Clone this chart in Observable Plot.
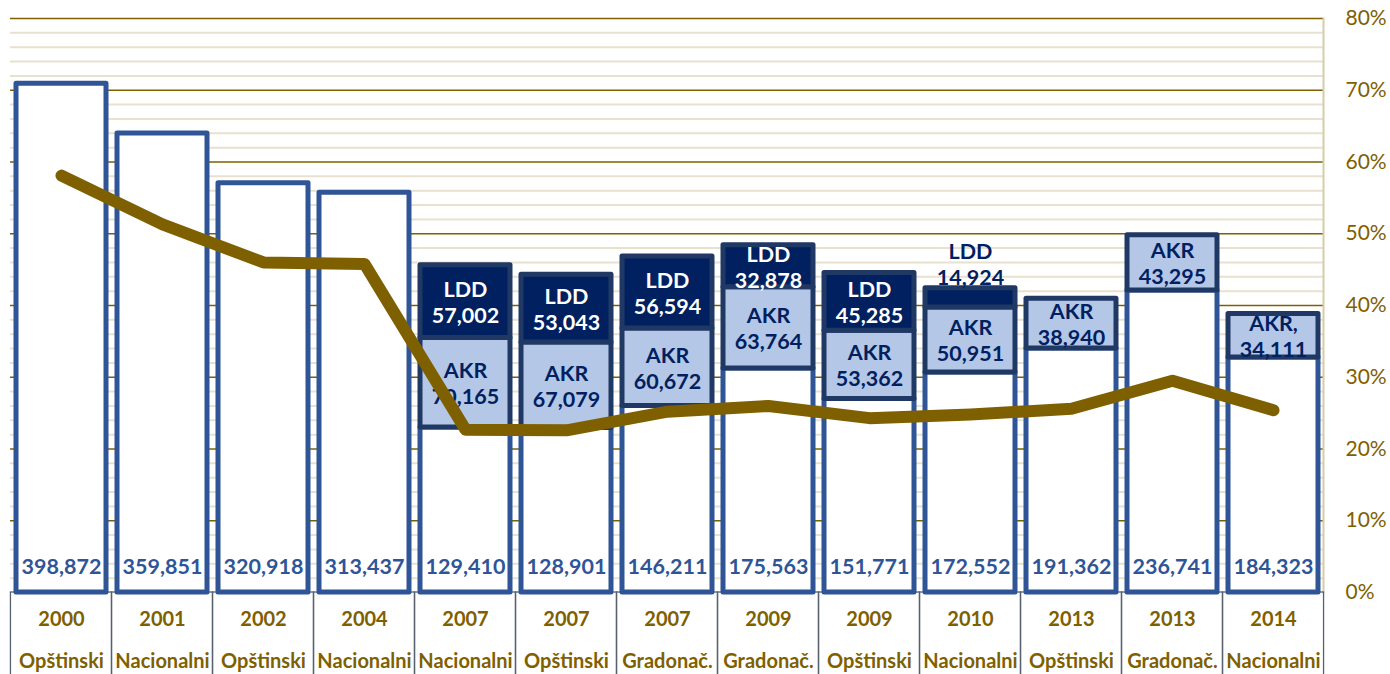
<!DOCTYPE html>
<html>
<head>
<meta charset="utf-8">
<script src="https://cdn.jsdelivr.net/npm/d3@7"></script>
<script src="https://cdn.jsdelivr.net/npm/@observablehq/plot@0.6"></script>
<style>
  html, body { margin: 0; padding: 0; background: #ffffff; }
  #chart { width: 1390px; height: 674px; overflow: hidden; }
</style>
</head>
<body>
<div id="chart"></div>
<script>
// ---- data ----
const years = ["2000","2001","2002","2004","2007","2007","2007","2009","2009","2010","2013","2013","2014"];
const types = ["Opštinski","Nacionalni","Opštinski","Nacionalni","Nacionalni","Opštinski","Gradonač.","Gradonač.","Opštinski","Nacionalni","Opštinski","Gradonač.","Nacionalni"];
const baseVotes = [398872,359851,320918,313437,129410,128901,146211,175563,151771,172552,191362,236741,184323];
const akrVotes = [null,null,null,null,70165,67079,60672,63764,53362,50951,38940,43295,34111];
const lddVotes = [null,null,null,null,57002,53043,56594,32878,45285,14924,null,null,null];
const akrTags = ["AKR","AKR","AKR","AKR","AKR","AKR","AKR","AKR","AKR","AKR","AKR","AKR","AKR,"];
const lddTags = ["LDD","LDD","LDD","LDD","LDD","LDD","LDD","LDD","LDD","LDD","LDD","LDD","LDD"];
const turnoutPct = [58.1,51.3,46.0,45.8,22.7,22.6,25.2,26.0,24.3,24.8,25.6,29.5,25.4];
const percentTicks = [0,10,20,30,40,50,60,70,80];
const VOTES_AXIS_MAX = 450000; // hidden primary (votes) axis maximum, aligned with 80%
const PCT_AXIS_MAX = 80;

// ---- derived tables ----
const toPct = v => v * PCT_AXIS_MAX / VOTES_AXIS_MAX;
const ids = years.map((y, i) => y + " " + types[i]);
const fmt = d3.format(",");
const rows = ids.map((id, i) => ({id, year: years[i], type: types[i], turnout: turnoutPct[i]}));
const baseSeg = ids.map((id, i) => ({id, y1: 0, y2: toPct(baseVotes[i]), label: fmt(baseVotes[i])}));
const akrSeg = ids.map((id, i) => akrVotes[i] == null ? null : ({
  id, y1: toPct(baseVotes[i]), y2: toPct(baseVotes[i] + akrVotes[i]),
  label: akrTags[i] + "\n" + fmt(akrVotes[i])
})).filter(Boolean);
const lddSeg = ids.map((id, i) => lddVotes[i] == null ? null : ({
  id, y1: toPct(baseVotes[i] + akrVotes[i]), y2: toPct(baseVotes[i] + akrVotes[i] + lddVotes[i]),
  label: lddTags[i] + "\n" + fmt(lddVotes[i]), small: lddVotes[i] < 20000
})).filter(Boolean);

const majorGrid = percentTicks.filter(t => t > 0);
const minorGrid = d3.range(2, PCT_AXIS_MAX, 2).filter(t => t % 10 !== 0);

const W = 1390, H = 674;
const mL = 10, mR = 67, mT = 18, mB = 82;
const padIn = 0.11, padOut = 0.055;
const step = (W - mL - mR) / (ids.length - padIn + 2 * padOut);
const halfGap = step * padIn / 2;
const pxPerUnit = (H - mT - mB) / PCT_AXIS_MAX;
const tableDepth = (mB + 10) / pxPerUnit;

const FONT = "Lato, 'Open Sans', 'Noto Sans', sans-serif";
const GOLD = "#7f6000";

const chart = Plot.plot({
  width: W,
  height: H,
  marginLeft: mL,
  marginRight: mR,
  marginTop: mT,
  marginBottom: mB,
  style: {fontFamily: FONT, background: "#ffffff", overflow: "visible"},
  x: {type: "band", domain: ids, paddingInner: padIn, paddingOuter: padOut, axis: null},
  y: {domain: [0, PCT_AXIS_MAX], axis: null},
  marks: [
    Plot.ruleY(minorGrid, {stroke: "#e8e1cf", strokeWidth: 2}),
    Plot.ruleY(majorGrid, {stroke: GOLD, strokeWidth: 1.5}),
    Plot.frame({anchor: "right", stroke: "#d8cca8", strokeWidth: 2}),
    // category table below the plot
    Plot.barY(rows, {x: "id", y1: 0, y2: -tableDepth, fill: "none", stroke: "#56606f", strokeWidth: 1.3,
      insetLeft: -halfGap, insetRight: -halfGap}),
    // stacked bars
    Plot.barY(baseSeg, {x: "id", y1: "y1", y2: "y2", fill: "#ffffff", stroke: "#2f5597", strokeWidth: 5, strokeLinejoin: "round"}),
    Plot.barY(akrSeg, {x: "id", y1: "y1", y2: "y2", fill: "#b4c7e7", stroke: "#203864", strokeWidth: 5, strokeLinejoin: "round"}),
    Plot.barY(lddSeg, {x: "id", y1: "y1", y2: "y2", fill: "#002060", stroke: "#203864", strokeWidth: 5, strokeLinejoin: "round"}),
    // labels
    Plot.text(baseSeg, {x: "id", y: 0, dy: -25, text: "label", fill: "#2f5597", fontWeight: "bold", fontSize: 21.5}),
    Plot.text(akrSeg, {x: "id", y: d => (d.y1 + d.y2) / 2, text: "label", fill: "#002060", fontWeight: "bold", fontSize: 21.5, lineHeight: 1.22, lineAnchor: "middle"}),
    Plot.text(lddSeg.filter(d => !d.small), {x: "id", y: d => (d.y1 + d.y2) / 2, text: "label", fill: "#ffffff", fontWeight: "bold", fontSize: 21.5, lineHeight: 1.22, lineAnchor: "middle"}),
    Plot.text(lddSeg.filter(d => d.small), {x: "id", y: "y2", dy: -25, text: "label", fill: "#002060", fontWeight: "bold", fontSize: 21.5, lineHeight: 1.22, lineAnchor: "middle"}),
    // turnout line
    Plot.lineY(rows, {x: "id", y: "turnout", stroke: GOLD, strokeWidth: 12, strokeLinecap: "round", strokeLinejoin: "round"}),
    // bottom category labels
    Plot.text(rows, {x: "id", y: 0, dy: 27, text: "year", fill: GOLD, fontWeight: "bold", fontSize: 20}),
    Plot.text(rows, {x: "id", y: 0, dy: 69, text: "type", fill: GOLD, fontWeight: "bold", fontSize: 20}),
    // right percent axis
    Plot.axisY({anchor: "right", ticks: percentTicks, tickFormat: d => d + "%", tickSize: 0, tickPadding: 22,
      fontSize: 21, fill: GOLD, label: null})
  ]
});
document.getElementById("chart").appendChild(chart);
</script>
</body>
</html>
